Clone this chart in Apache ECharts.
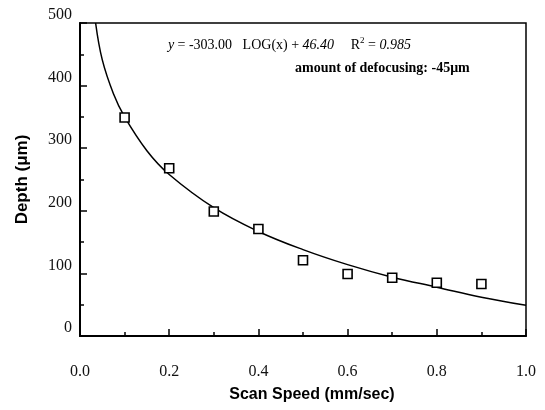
<!DOCTYPE html>
<html>
<head>
<meta charset="utf-8">
<script src="https://cdn.jsdelivr.net/npm/echarts@6/dist/echarts.min.js"></script>
<style>html,body{margin:0;padding:0;background:#fff}#c{width:545px;height:410px}</style>
</head>
<body>
<div id="c"></div>
<script>
// Measured points
const speeds = [0.1, 0.2, 0.3, 0.4, 0.5, 0.6, 0.7, 0.8, 0.9];
const depths = [349, 268, 199, 171, 121, 99, 93, 85, 83];
// Fitted curve
const curveX = [0.035, 0.05, 0.075, 0.1, 0.15, 0.2, 0.3, 0.4, 0.5, 0.6, 0.7, 0.8, 0.9, 1.0];
const curveY = [500, 441, 387, 350, 296, 258, 205, 167, 138, 114, 94, 78, 62, 49];
const xTicks = ['0.0', '0.2', '0.4', '0.6', '0.8', '1.0'];
const yTicks = ['0', '100', '200', '300', '400', '500'];

const chart = echarts.init(document.getElementById('c'), null, {renderer: 'canvas'});
const serif = '"Liberation Serif", "DejaVu Serif", serif';
const sans = '"Liberation Sans", Arial, sans-serif';
chart.setOption({
  animation: false,
  backgroundColor: '#fff',
  grid: {left: 80, right: 19, top: 23, bottom: 74, show: true, borderColor: '#000', borderWidth: 1.5, backgroundColor: 'transparent'},
  xAxis: {
    type: 'value', min: 0, max: 1, interval: 0.2,
    axisLine: {lineStyle: {color: '#000', width: 2}},
    axisTick: {inside: true, length: 7, lineStyle: {color: '#000', width: 1.5}},
    minorTick: {show: true, splitNumber: 2, length: 4, lineStyle: {color: '#000', width: 1.5}},
    splitLine: {show: false},
    axisLabel: {color: '#111', fontFamily: serif, fontSize: 16, margin: 28,
      formatter: (v) => xTicks[Math.round(v / 0.2)]},
    name: 'Scan Speed (mm/sec)', nameLocation: 'middle', nameGap: 51,
    nameTextStyle: {color: '#000', fontFamily: sans, fontWeight: 'bold', fontSize: 16, padding: [0, 0, 0, 18]}
  },
  yAxis: {
    type: 'value', min: 0, max: 500, interval: 100,
    axisLine: {lineStyle: {color: '#000', width: 2}},
    axisTick: {inside: true, length: 7, lineStyle: {color: '#000', width: 1.5}},
    minorTick: {show: true, splitNumber: 2, length: 4, lineStyle: {color: '#000', width: 1.5}},
    splitLine: {show: false},
    axisLabel: {color: '#111', fontFamily: serif, fontSize: 16, margin: 8, verticalAlign: 'bottom',
      formatter: (v) => yTicks[Math.round(v / 100)]},
    name: 'Depth (\u03bcm)', nameLocation: 'middle', nameGap: 49,
    nameTextStyle: {color: '#000', fontFamily: sans, fontWeight: 'bold', fontSize: 17}
  },
  series: [
    {
      type: 'line', data: curveX.map((x, i) => [x, curveY[i]]), smooth: 0.4,
      showSymbol: false, lineStyle: {color: '#000', width: 1.5}, z: 2, silent: true
    },
    {
      type: 'scatter', data: speeds.map((x, i) => [x, depths[i]]),
      symbol: 'rect', symbolSize: 9,
      itemStyle: {color: '#fff', borderColor: '#000', borderWidth: 1.6, opacity: 1}, z: 3
    }
  ],
  graphic: [
    {type: 'text', left: 168, top: 36, style: {
      text: '{i|y} {u|= -303.00   LOG(x) + }{i|46.40}     {u|R}{s|2}{u| = }{i|0.985}',
      rich: {
        i: {fontFamily: serif, fontStyle: 'italic', fontSize: 14, fill: '#000', verticalAlign: 'bottom'},
        u: {fontFamily: serif, fontSize: 14, fill: '#000', verticalAlign: 'bottom'},
        s: {fontFamily: serif, fontSize: 9, fill: '#000', verticalAlign: 'top', padding: [0, 0, 7, 0]}
      }}},
    {type: 'text', left: 295, top: 61, style: {
      text: 'amount of defocusing: -45\u03bcm', fontFamily: serif, fontWeight: 'bold', fontSize: 14, fill: '#000'}}
  ]
});
</script>
</body>
</html>
